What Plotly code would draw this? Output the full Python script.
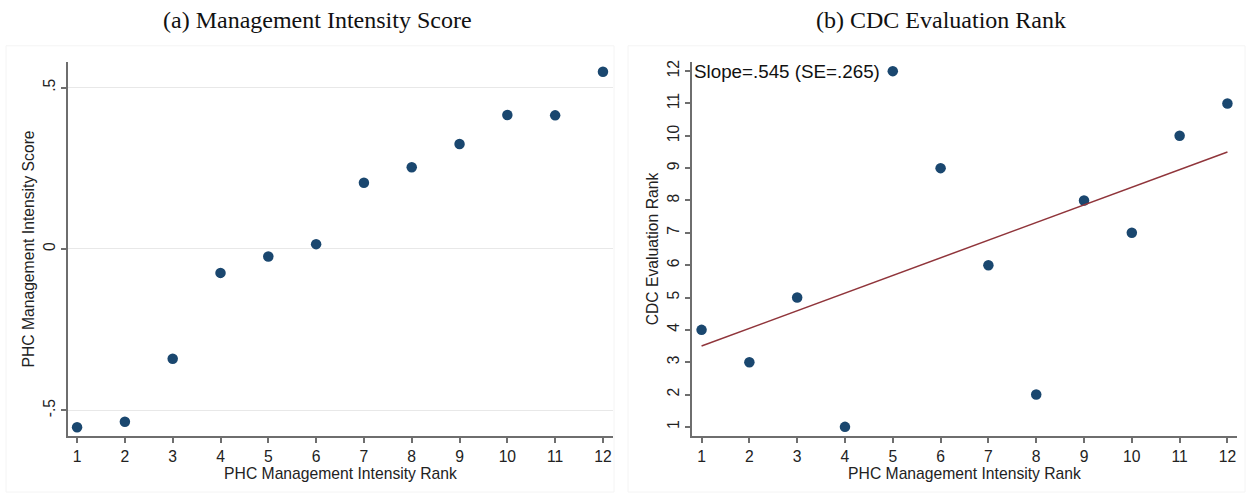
import numpy as np
import plotly.graph_objects as go

# ---- data ----
ranks = [1, 2, 3, 4, 5, 6, 7, 8, 9, 10, 11, 12]
mgmt_score = [-0.552, -0.535, -0.340, -0.074, -0.023, 0.015, 0.205, 0.253, 0.325, 0.415, 0.414, 0.549]
cdc_rank = [4, 3, 5, 1, 12, 9, 6, 2, 8, 7, 10, 11]
score_ticks = [-0.5, 0, 0.5]
score_ticktext = ["-.5", "0", ".5"]
rank_ticks = list(range(1, 13))
slope_se = 0.265

W, H = 1251, 496
NAVY = "#1a476f"
MAROON = "#90353b"
AXC = "#6e6e6e"
FONT = "Liberation Sans, Arial, sans-serif"
SERIF = "Liberation Serif, Times New Roman, serif"
FS = 15.7

fig = go.Figure()

fig.add_trace(go.Scatter(x=ranks, y=mgmt_score, mode="markers",
                         marker=dict(color=NAVY, size=10.5), xaxis="x", yaxis="y",
                         showlegend=False))
fig.add_trace(go.Scatter(x=ranks, y=cdc_rank, mode="markers",
                         marker=dict(color=NAVY, size=10.5), xaxis="x2", yaxis="y2",
                         showlegend=False))
slope, intercept = np.polyfit(ranks, cdc_rank, 1)
xs = np.array([min(ranks), max(ranks)])
fig.add_trace(go.Scatter(x=xs, y=slope * xs + intercept, mode="lines",
                         line=dict(color=MAROON, width=1.5), xaxis="x2", yaxis="y2",
                         showlegend=False))

def px(x):
    return x / W

def py(y):
    return 1 - y / H

axis_common = dict(showline=True, linecolor=AXC, linewidth=2, ticks="outside",
                   tickcolor=AXC, ticklen=5, tickwidth=1.5, zeroline=False,
                   tickfont=dict(family=FONT, size=FS, color="#222"),
                   title_font=dict(family=FONT, size=FS, color="#222"))

fig.update_layout(
    width=W, height=H, margin=dict(l=0, r=0, t=0, b=0),
    paper_bgcolor="white", plot_bgcolor="white",
    xaxis=dict(domain=[px(68), px(613)], range=[0.81, 12.21], tickvals=rank_ticks,
               showgrid=False, anchor="y",
               title=dict(text="PHC Management Intensity Rank", standoff=0), **axis_common),
    yaxis=dict(domain=[py(436), py(60)], range=[-0.58, 0.58], tickvals=score_ticks,
               ticktext=score_ticktext, tickangle=-90, showgrid=True, gridcolor="#e8e8e8",
               gridwidth=1, anchor="x",
               title=dict(text="PHC Management Intensity Score", standoff=2), **axis_common),
    xaxis2=dict(domain=[px(692), px(1237)], range=[0.80, 12.2], tickvals=rank_ticks,
                showgrid=False, anchor="y2",
                title=dict(text="PHC Management Intensity Rank", standoff=0), **axis_common),
    yaxis2=dict(domain=[py(436), py(60)], range=[0.71, 12.29], tickvals=rank_ticks,
                tickangle=-90, showgrid=False, anchor="x2",
                title=dict(text="CDC Evaluation Rank", standoff=2), **axis_common),
)

fig.add_annotation(text="(a) Management Intensity Score", x=px(317), y=py(18),
                   xref="paper", yref="paper", showarrow=False, xanchor="center",
                   yanchor="middle", font=dict(family=SERIF, size=24, color="#111"))
fig.add_annotation(text="(b) CDC Evaluation Rank", x=px(941), y=py(18),
                   xref="paper", yref="paper", showarrow=False, xanchor="center",
                   yanchor="middle", font=dict(family=SERIF, size=24, color="#111"))
slope_txt = ("Slope=%.3f (SE=%.3f)" % (slope, slope_se)).replace("0.", ".")
fig.add_annotation(text=slope_txt, x=0.81, y=12, xref="x2", yref="y2",
                   xanchor="left", yanchor="middle", showarrow=False,
                   font=dict(family=FONT, size=18.8, color="#111"))

# faint panel frames
for x0, x1 in [(6, 614), (628, 1245)]:
    fig.add_shape(type="rect", xref="paper", yref="paper", x0=px(x0), x1=px(x1),
                  y0=py(492), y1=py(44), line=dict(color="#f4f4f4", width=1),
                  fillcolor="rgba(0,0,0,0)", layer="below")

fig.write_html("out.html")
